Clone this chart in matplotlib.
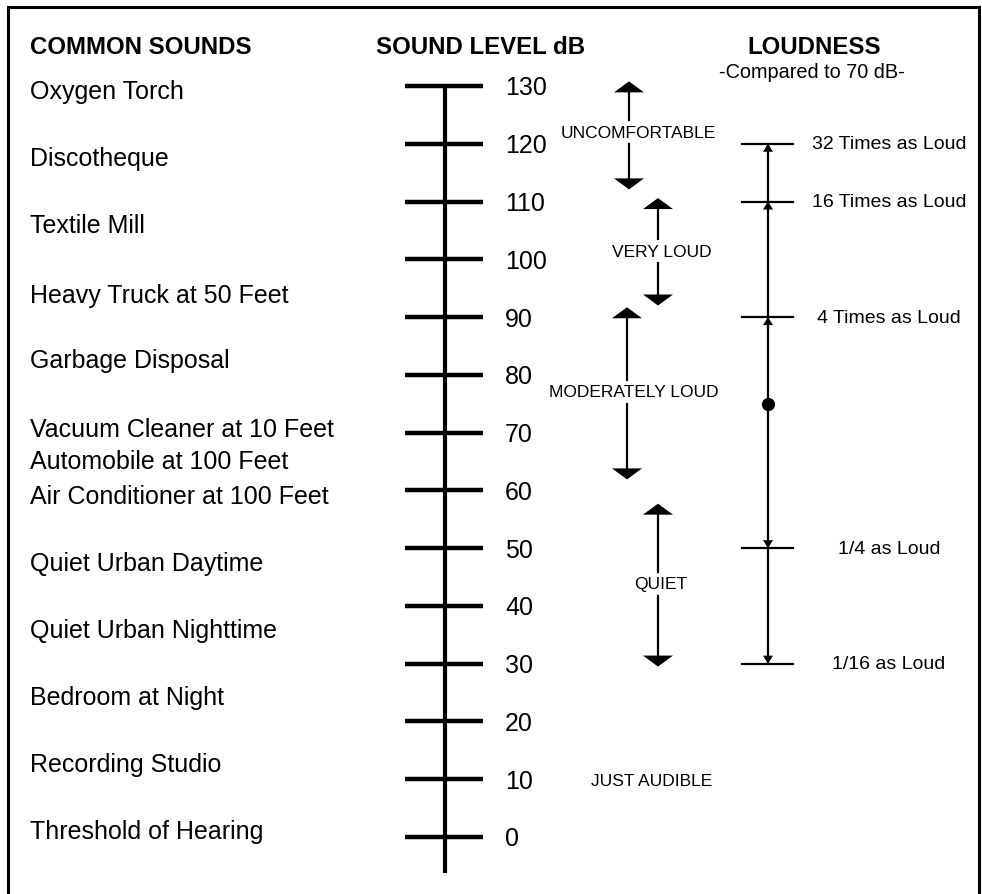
import matplotlib.pyplot as plt

plt.rcParams['font.family'] = ['Liberation Sans', 'DejaVu Sans']

# sound level scale, dB
db_ticks = list(range(0, 131, 10))

# common sounds and the level each name sits at beside the scale
sounds = ['Oxygen Torch', 'Discotheque', 'Textile Mill', 'Heavy Truck at 50 Feet',
          'Garbage Disposal', 'Vacuum Cleaner at 10 Feet', 'Automobile at 100 Feet',
          'Air Conditioner at 100 Feet', 'Quiet Urban Daytime', 'Quiet Urban Nighttime',
          'Bedroom at Night', 'Recording Studio', 'Threshold of Hearing']
sound_db = [129.1, 117.5, 105.9, 93.9, 82.5, 70.7, 65.0, 59.1, 47.5, 35.9, 24.3, 12.7, 1.0]

# subjective ranges: arrow tip up, label level, arrow tip down
ranges = ['UNCOMFORTABLE', 'VERY LOUD', 'MODERATELY LOUD', 'QUIET', 'JUST AUDIBLE']
range_top = [130.8, 110.6, 91.7, 57.7, None]
range_mid = [122.0, 101.4, 77.1, 43.8, 9.7]
range_bottom = [112.1, 92.0, 61.9, 29.5, None]

# loudness relative to 70 dB
loud_db = [120, 110, 90, 50, 30]
loud_text = ['32 Times as Loud', '16 Times as Loud', '4 Times as Loud', '1/4 as Loud', '1/16 as Loud']
ref_db = 75

PX = 5.777  # pixels per dB


def px(n):
    return n / PX


fig = plt.figure(figsize=(9.82, 8.95), dpi=100)
ax = fig.add_axes([0, 0, 1, 1])
ax.set_xlim(0, 982)
ax.set_ylim(px(838 - 895), px(838))
ax.axis('off')


def head(x, tip, up, hw, h):
    d = -h if up else h
    ax.fill([x - hw, x + hw, x], [tip + d, tip + d, tip], color='black', lw=0)


# frame
ax.plot([8, 8, 979, 979], [px(838 - 895), px(838 - 8), px(838 - 8), px(838 - 895)],
        color='black', lw=2.2, solid_joinstyle='miter')

# headers
hdr = dict(fontsize=17.3, fontweight='bold', va='center')
ax.text(30, px(838 - 47), 'COMMON SOUNDS', ha='left', **hdr)
ax.text(481, px(838 - 47), 'SOUND LEVEL dB', ha='center', **hdr)
ax.text(814, px(838 - 47), 'LOUDNESS', ha='center', **hdr)
ax.text(812, px(838 - 73), '-Compared to 70 dB-', ha='center', va='center', fontsize=14.3)

# common sounds
for name, d in zip(sounds, sound_db):
    ax.text(30, d, name, ha='left', va='center', fontsize=18)

# main scale
ax.plot([445, 445], [db_ticks[-1], px(838 - 874)], color='black', lw=3, solid_capstyle='butt')
for d in db_ticks:
    ax.plot([405, 483], [d, d], color='black', lw=3.2, solid_capstyle='butt')
    ax.text(505, d - px(1.5), str(d), ha='left', va='center', fontsize=18)

# subjective ranges
range_x = [629, 658, 627, 658, 652]
text_x = [638, 662, 634, 661, 652]
gap = px(12)
for i, lab in enumerate(ranges):
    ax.text(text_x[i], range_mid[i], lab, ha='center', va='center', fontsize=12.5)
    x = range_x[i]
    if range_top[i] is not None:
        ax.plot([x, x], [range_mid[i] + gap, range_top[i] - px(8)], color='black', lw=1.6)
        head(x, range_top[i], True, 15, px(11))
    if range_bottom[i] is not None:
        ax.plot([x, x], [range_mid[i] - gap, range_bottom[i] + px(8)], color='black', lw=1.6)
        head(x, range_bottom[i], False, 15, px(11))

# loudness scale
ax.plot([768, 768], [max(loud_db), min(loud_db)], color='black', lw=1.6)
for d, lab in zip(loud_db, loud_text):
    ax.plot([742, 793], [d, d], color='black', lw=1.6)
    head(768, d, d > ref_db, 5, px(8))
    ax.text(889, d, lab, ha='center', va='center', fontsize=14)
ax.plot([768], [ref_db], 'o', color='black', markersize=8.5)

fig.savefig('out.png', dpi=100)
